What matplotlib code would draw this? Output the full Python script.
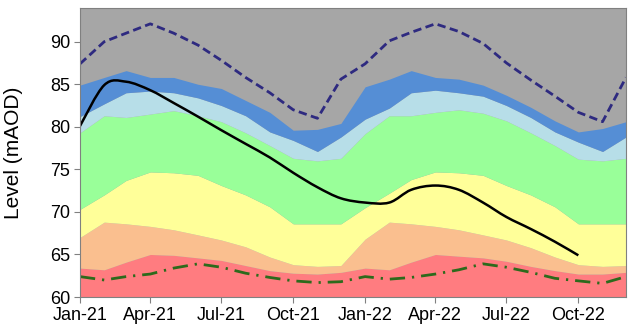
import datetime as dt
import numpy as np
import matplotlib
matplotlib.use('Agg')
import matplotlib.pyplot as plt
import matplotlib.dates as mdates
from matplotlib.path import Path
from matplotlib.patches import PathPatch

plt.rcParams['font.family'] = ['Liberation Sans', 'DejaVu Sans']

# monthly values, Jan-21 .. Dec-22
months = [dt.date(2021 + i // 12, i % 12 + 1, 1) for i in range(24)]

red_top = [63.4, 63.2, 64.1, 65.0, 64.9, 64.6, 64.3, 63.7, 63.1, 62.8, 62.7, 62.9,
           63.4, 63.2, 64.1, 65.0, 64.8, 64.6, 64.2, 63.6, 63.1, 62.7, 62.7, 62.9]
salmon_top = [67.0, 68.8, 68.6, 68.3, 67.9, 67.3, 66.7, 65.9, 64.7, 63.8, 63.6, 63.7,
              66.8, 68.8, 68.6, 68.3, 67.9, 67.3, 66.7, 65.8, 64.7, 63.8, 63.6, 63.7]
yellow_top = [70.3, 72.0, 73.7, 74.7, 74.6, 74.3, 73.1, 72.0, 70.6, 68.6, 68.6, 68.6,
              70.5, 72.2, 73.8, 74.7, 74.6, 74.3, 73.1, 72.0, 70.6, 68.6, 68.6, 68.6]
green_top = [79.3, 81.3, 81.1, 81.5, 81.9, 81.3, 80.6, 79.3, 77.8, 76.3, 76.0, 76.3,
             79.2, 81.3, 81.3, 81.7, 82.0, 81.6, 80.7, 79.3, 77.8, 76.2, 76.0, 76.3]
lblue_top = [81.2, 82.7, 84.0, 84.2, 84.0, 83.4, 82.5, 81.3, 79.4, 78.4, 77.1, 78.8,
             80.9, 82.2, 84.0, 84.3, 84.0, 83.6, 82.5, 81.1, 79.4, 78.2, 77.1, 78.8]
blue_top = [84.9, 85.8, 86.6, 85.8, 85.8, 85.0, 84.5, 83.1, 81.7, 79.6, 79.7, 80.4,
            84.7, 85.6, 86.6, 85.8, 85.6, 84.9, 83.7, 82.3, 80.7, 79.4, 79.8, 80.6]

max_level = [87.4, 90.0, 91.0, 92.1, 91.0, 89.6, 87.8, 85.8, 84.0, 82.0, 81.0, 85.6,
             87.4, 90.1, 91.1, 92.1, 91.2, 89.8, 87.5, 85.5, 83.6, 81.7, 80.6, 85.8]
min_level = [62.4, 62.0, 62.4, 62.7, 63.4, 63.9, 63.5, 62.8, 62.3, 61.9, 61.7, 61.8,
             62.4, 62.1, 62.3, 62.7, 63.2, 63.9, 63.5, 62.9, 62.2, 61.9, 61.6, 62.4]

# observed level, Jan-21 .. Oct-22
observed = [80.1, 84.9, 85.3, 84.3, 82.8, 81.2, 79.6, 78.0, 76.4, 74.6, 72.9, 71.6,
            71.1, 71.1, 72.6, 73.1, 72.6, 71.1, 69.4, 68.0, 66.5, 64.9]


def smooth_path(x, y):
    # excel style smoothed line as cubic bezier segments
    p = np.column_stack([x, y])
    pe = np.vstack([p[0], p, p[-1]])
    verts = [p[0]]
    codes = [Path.MOVETO]
    for i in range(len(p) - 1):
        c1 = pe[i + 1] + (pe[i + 2] - pe[i]) / 6
        c2 = pe[i + 2] - (pe[i + 3] - pe[i + 1]) / 6
        verts += [c1, c2, pe[i + 2]]
        codes += [Path.CURVE4] * 3
    return Path(verts, codes)


fig = plt.figure(figsize=(6.28, 3.33), dpi=100)
ax = fig.add_axes([0.1274, 0.108, 0.8694, 0.869])
ax.set_facecolor('#a6a6a6')

xn = mdates.date2num(months)
bands = [(red_top, '#ff7c80'), (salmon_top, '#fabf8f'), (yellow_top, '#ffff99'),
         (green_top, '#99ff99'), (lblue_top, '#b7dee8'), (blue_top, '#558ed5')]
lower = [50] * 24
for top, col in bands:
    ax.fill_between(xn, lower, top, color=col, lw=0)
    lower = top

ax.plot(xn, max_level, color='#2e2a80', lw=2.0, ls=(0, (3, 1.6)))
ax.plot(xn, min_level, color='#2d6a1c', lw=2.0, ls=(0, (5.5, 2.5, 0.8, 2.5)))

obs_path = smooth_path(xn[:len(observed)], observed)
ax.add_patch(PathPatch(obs_path, fill=False, color='black', lw=1.8))

ax.set_xlim(mdates.date2num(dt.date(2021, 1, 1)), mdates.date2num(dt.date(2022, 12, 1)))
ax.set_ylim(60, 94)
ax.set_yticks([60, 65, 70, 75, 80, 85, 90])
ax.xaxis.set_major_locator(mdates.MonthLocator(bymonth=[1, 4, 7, 10]))
ax.xaxis.set_major_formatter(mdates.DateFormatter('%b-%y'))
ax.tick_params(direction='out', length=4, width=0.8, color='#808080',
               labelsize=13, pad=3)
for s in ax.spines.values():
    s.set_color('#808080')
    s.set_linewidth(0.8)

ax.set_ylabel('Level (mAOD)', fontsize=15)
ax.yaxis.set_label_coords(-0.104, 0.5)

fig.savefig('out.png', dpi=100)
